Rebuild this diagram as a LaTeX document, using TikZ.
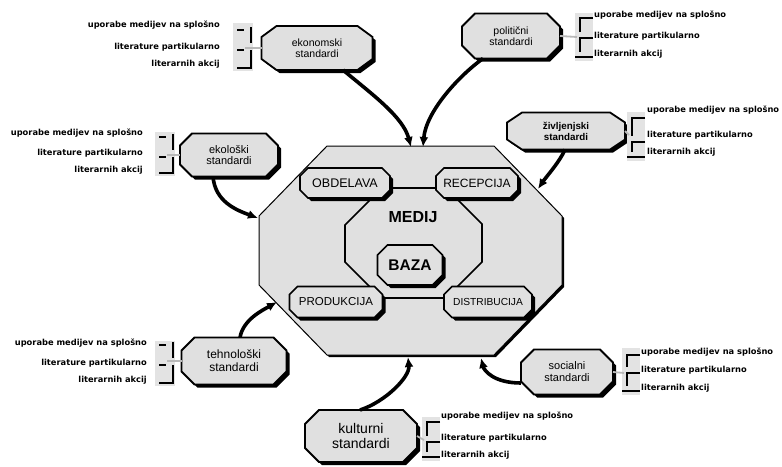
\documentclass[tikz,border=0pt]{standalone}
\usepackage{fontspec}
\setmainfont{Liberation Sans}
\newfontfamily\lblfont{DejaVu Sans}
\usetikzlibrary{backgrounds,arrows.meta}
\definecolor{boxgray}{gray}{0.88}
\newcommand\octcoords[5]{([xshift=#4+#2,yshift=#5]#1.north west) -- ([xshift=#4-#2,yshift=#5]#1.north east) -- ([xshift=#4,yshift=#5-#3]#1.north east) -- ([xshift=#4,yshift=#5+#3]#1.south east) -- ([xshift=#4-#2,yshift=#5]#1.south east) -- ([xshift=#4+#2,yshift=#5]#1.south west) -- ([xshift=#4,yshift=#5+#3]#1.south west) -- ([xshift=#4,yshift=#5-#3]#1.north west) -- cycle}
\newcommand\octshape[5]{%
 \begin{scope}[on background layer]
  \fill[black] \octcoords{#1}{#2}{#3}{#4}{-#4};
  \filldraw[fill=boxgray,draw=black,line width=#5] \octcoords{#1}{#2}{#3}{0pt}{0pt};
 \end{scope}}
\newcommand\lbrk[5]{%
 \fill[brkbg] (#1,#2) rectangle (#1+20,#5+3);
 \draw[brkln] (#1+4,#3) -- (#1+11,#3);
 \draw[brkln] (#1+18,#3-3) -- (#1+18,#4-7);
 \draw[brkln] (#1+4,#4) -- (#1+11,#4);
 \draw[brkln] (#1+18,#4) -- (#1+18,#5) -- (#1+4,#5);}
\newcommand\rbrk[5]{%
 \fill[brkbg] (#1,#2) rectangle (#1+18,#5+4);
 \draw[brkln] (#1+18,#3) -- (#1+5,#3) -- (#1+5,#4-6);
 \draw[brkln] (#1+18,#4) -- (#1+5,#4) -- (#1+5,#5-5);
 \draw[brkln] (#1,#5) -- (#1+18,#5);}
\tikzset{
 box/.style={inner sep=0pt, outer sep=0pt, align=center, text=black},
 lbl/.style={font=\lblfont\bfseries\fontsize{8.3}{9}\selectfont, inner sep=0pt, text=black},
 brkln/.style={black, line width=1.8pt},
 brkbg/.style={fill=gray!22},
 stub/.style={gray!55, line width=1.8pt},
 arr/.style={line width=3.6pt, -{Latex[length=10pt,width=9pt]}},
}
\begin{document}
\begin{tikzpicture}[x=1pt,y=-1pt]
\useasboundingbox (0,0) rectangle (782,466);
\begin{scope}[on background layer]
 \fill[white] (0,0) rectangle (782,466);
\end{scope}
% big octagon
\node[box, minimum width=303pt, minimum height=209pt] (big) at (410.5,250.5) {};
\octshape{big}{68pt}{70pt}{2pt}{1pt}
\begin{scope}[on background layer]
 \draw[line width=1.6pt] (382,188) -- (446,188) -- (482,224) -- (482,262) -- (446,298) -- (381,298) -- (345,262) -- (345,225) -- cycle;
\end{scope}
\node[box, font=\bfseries\fontsize{16}{18}\selectfont] (medij) at (413,217) {MEDIJ};
% inner nodes
\node[box, minimum width=90pt, minimum height=30pt, font=\fontsize{12.5}{14}\selectfont] (obd) at (345,183) {OBDELAVA};
\octshape{obd}{8pt}{8pt}{3pt}{1.6pt}
\node[box, minimum width=82pt, minimum height=30pt, font=\fontsize{12}{14}\selectfont] (rec) at (477,183) {RECEPCIJA};
\octshape{rec}{8pt}{8pt}{3pt}{1.6pt}
\node[box, minimum width=93pt, minimum height=31pt, font=\fontsize{11.5}{14}\selectfont] (pro) at (336,302) {PRODUKCIJA};
\octshape{pro}{8pt}{8pt}{3pt}{1.6pt}
\node[box, minimum width=88pt, minimum height=31pt, font=\fontsize{10.2}{14}\selectfont] (dis) at (488,302) {DISTRIBUCIJA};
\octshape{dis}{8pt}{8pt}{3pt}{1.6pt}
\node[box, minimum width=65pt, minimum height=40pt, font=\bfseries\fontsize{15.5}{17}\selectfont] (baza) at (410,265) {BAZA};
\octshape{baza}{10pt}{10pt}{3pt}{1.6pt}
% standards
\node[box, minimum width=111pt, minimum height=44pt, font=\fontsize{10.5}{11}\selectfont] (ekon) at (317,48) {ekonomski\\standardi};
\octshape{ekon}{15pt}{11pt}{3pt}{1.8pt}
\node[box, minimum width=98pt, minimum height=45pt, font=\fontsize{10.5}{11}\selectfont] (polit) at (511,36) {politični\\standardi};
\octshape{polit}{13pt}{13pt}{3pt}{1.8pt}
\node[box, minimum width=98pt, minimum height=43pt, font=\fontsize{11}{11.5}\selectfont] (ekol) at (229,155) {ekološki\\standardi};
\octshape{ekol}{12pt}{12pt}{3pt}{1.8pt}
\node[box, minimum width=118pt, minimum height=37pt, font=\bfseries\fontsize{9.8}{11}\selectfont] (zivl) at (566,131) {življenjski\\standardi};
\octshape{zivl}{15pt}{10pt}{3pt}{1.8pt}
\node[box, minimum width=105pt, minimum height=47pt, font=\fontsize{12}{13}\selectfont] (tehn) at (234,361) {tehnološki\\standardi};
\octshape{tehn}{13pt}{13pt}{3pt}{1.8pt}
\node[box, minimum width=92pt, minimum height=45pt, font=\fontsize{11}{12}\selectfont] (soc) at (567,372) {socialni\\standardi};
\octshape{soc}{13pt}{13pt}{3pt}{1.8pt}
\node[box, minimum width=112pt, minimum height=52pt, font=\fontsize{14}{15}\selectfont] (kult) at (361,436) {kulturni\\standardi};
\octshape{kult}{14pt}{14pt}{3pt}{1.8pt}
% arrows
\coordinate (t1) at (411,147);
\coordinate (t2) at (423,147);
\coordinate (t3) at (258,218);
\coordinate (t4) at (538,189);
\coordinate (t5) at (277,302);
\coordinate (t6) at (408,357);
\coordinate (t7) at (481,358);
\draw[arr] ([xshift=26pt]ekon.south) .. controls +(30,25) and +(-8,-30) .. (t1);
\draw[arr] ([xshift=-28pt]polit.south) .. controls +(-25,18) and +(3,-35) .. (t2);
\draw[arr] ([xshift=-16pt]ekol.south) .. controls +(2,25) and +(-22,-8) .. (t3);
\draw[arr] ([xshift=-1pt]zivl.south) .. controls +(-5,12) and +(8,-12) .. (t4);
\draw[arr] ([xshift=6pt]tehn.north) .. controls +(3,-18) and +(-14,8) .. (t5);
\draw[arr] ([xshift=-1pt]kult.north) .. controls +(25,-8) and +(2,20) .. (t6);
\draw[arr] ([yshift=-11pt]soc.west) .. controls +(-28,0) and +(3,12) .. (t7);
% brackets and labels: ekonomski
\lbrk{233}{23}{30}{50}{68}
\coordinate (ekb) at (245,48);
\draw[stub] (ekon.west) -- (ekb);
\node[lbl, anchor=east] (ek1) at (220,25) {uporabe medijev na splošno};
\node[lbl, anchor=east] (ek2) at (220,47) {literature partikularno};
\node[lbl, anchor=east] (ek3) at (220,64) {literarnih akcij};
% ekoloski
\lbrk{155}{132}{137}{157}{173}
\coordinate (elb) at (167,155);
\draw[stub] (ekol.west) -- (elb);
\node[lbl, anchor=east] (el1) at (143,133) {uporabe medijev na splošno};
\node[lbl, anchor=east] (el2) at (143,153) {literature partikularno};
\node[lbl, anchor=east] (el3) at (143,170) {literarnih akcij};
% tehnoloski
\lbrk{155}{341}{345}{365}{383}
\coordinate (teb) at (167,361);
\draw[stub] (tehn.west) -- (teb);
\node[lbl, anchor=east] (te1) at (147,343) {uporabe medijev na splošno};
\node[lbl, anchor=east] (te2) at (147,363) {literature partikularno};
\node[lbl, anchor=east] (te3) at (147,380) {literarnih akcij};
% politicni
\rbrk{575}{13}{18}{38}{57}
\coordinate (pob) at (577,37);
\draw[stub] (polit.east) -- (pob);
\node[lbl, anchor=west] (po1) at (594,15) {uporabe medijev na splošno};
\node[lbl, anchor=west] (po2) at (594,36) {literature partikularno};
\node[lbl, anchor=west] (po3) at (594,54) {literarnih akcij};
% zivljenjski
\rbrk{627}{112}{118}{142}{157}
\coordinate (zib) at (629,135);
\draw[stub] (zivl.east) -- (zib);
\node[lbl, anchor=west] (zi1) at (647,110) {uporabe medijev na splošno};
\node[lbl, anchor=west] (zi2) at (647,135) {literature partikularno};
\node[lbl, anchor=west] (zi3) at (647,152) {literarnih akcij};
% socialni
\rbrk{622}{348}{355}{373}{391}
\coordinate (sob) at (624,373);
\draw[stub] (soc.east) -- (sob);
\node[lbl, anchor=west] (so1) at (641,352) {uporabe medijev na splošno};
\node[lbl, anchor=west] (so2) at (641,370) {literature partikularno};
\node[lbl, anchor=west] (so3) at (641,388) {literarnih akcij};
% kulturni
\rbrk{422}{417}{422}{442}{457}
\coordinate (kub) at (424,440);
\draw[stub] (kult.east) -- (kub);
\node[lbl, anchor=west] (ku1) at (441,416) {uporabe medijev na splošno};
\node[lbl, anchor=west] (ku2) at (441,438) {literature partikularno};
\node[lbl, anchor=west] (ku3) at (441,455) {literarnih akcij};
\end{tikzpicture}
\end{document}
